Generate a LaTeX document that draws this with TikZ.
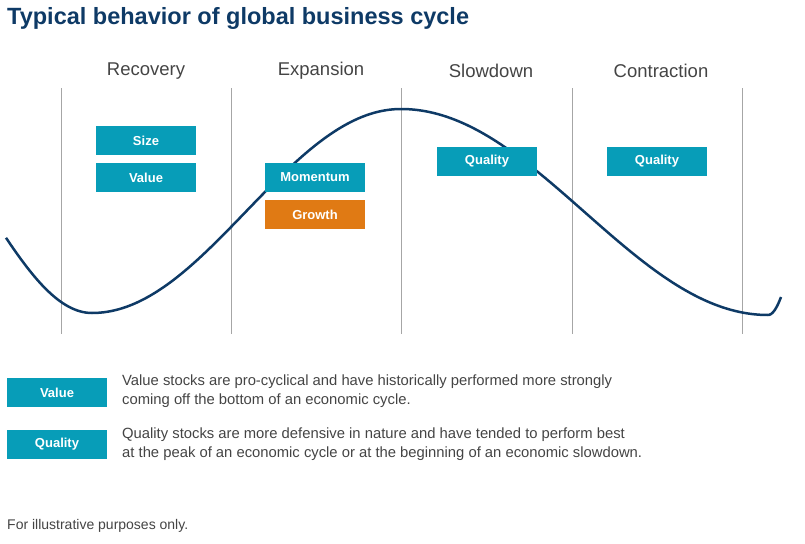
\documentclass[tikz,border=0pt]{standalone}
\usepackage{fontspec}
\setmainfont{Liberation Sans}
\definecolor{navy}{HTML}{0E3A66}
\definecolor{teal}{HTML}{079DB8}
\definecolor{orng}{HTML}{E07A14}
\definecolor{txtgray}{HTML}{444444}
\tikzset{
  factor/.style={fill=#1, text=white, font=\bfseries\fontsize{13}{14}\selectfont,
    minimum width=100pt, minimum height=29pt, inner sep=0pt},
  phase/.style={text=txtgray, font=\fontsize{18.5}{20}\selectfont},
  note/.style={anchor=north west, align=left, text=txtgray, inner sep=0pt,
    font=\fontsize{14.8}{18.5}\selectfont}
}
\begin{document}
\begin{tikzpicture}[x=1pt,y=-1pt]
  \useasboundingbox (0,0) rectangle (805,543);
  % title
  \node[anchor=west, inner sep=0pt, text=navy, font=\bfseries\fontsize{23.5}{25}\selectfont] (title) at (7,18) {Typical behavior of global business cycle};
  % phases
  \foreach \x/\name in {146/Recovery, 321/Expansion, 491/Slowdown, 661/Contraction}{
    \node[phase] (ph\name) at (\x,71) {\name};
  }
  \foreach \x in {61,231,401,572,742}{
    \draw[gray!70, line width=0.8pt] (\x,88) -- (\x,334);
  }
  % cycle curve
  \draw[navy, line width=2.5pt, line join=round]
    plot[domain=6:92, samples=30] (\x, {211+102*cos(0.8696*(\x-92))})
    -- plot[domain=92:401, samples=80] (\x, {211+102*cos(0.5825*(\x-92))})
    -- plot[domain=401:768, samples=90] (\x, {212-103*cos(0.49046*(\x-401))})
    -- plot[domain=768:781, samples=10] (\x, {212+103*cos(2.647*(\x-768))});
  % factors
  \node[factor=teal] (size) at (146,140.5) {Size};
  \node[factor=teal] (value) at (146,177.5) {Value};
  \node[factor=teal] (momentum) at (315,177.5) {Momentum};
  \node[factor=orng] (growth) at (315,214.5) {Growth};
  \node[factor=teal] (qualityA) at (487,161) {Quality};
  \node[factor=teal] (qualityB) at (657,161) {Quality};
  % legend
  \node[factor=teal] (keyvalue) at (57,392.5) {Value};
  \node[factor=teal] (keyquality) at (57,444.5) {Quality};
  \node[note] (notevalue) at (122,375) {Value stocks are pro-cyclical and have historically performed more strongly\\coming off the bottom of an economic cycle.};
  \node[note] (notequality) at (122,428) {Quality stocks are more defensive in nature and have tended to perform best\\at the peak of an economic cycle or at the beginning of an economic slowdown.};
  \node[note, font=\fontsize{14}{16}\selectfont] (footer) at (7,519) {For illustrative purposes only.};
\end{tikzpicture}
\end{document}
